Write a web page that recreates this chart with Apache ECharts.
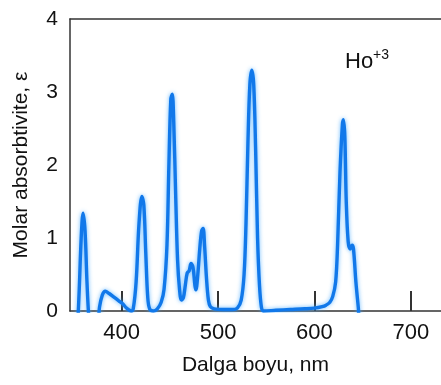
<!DOCTYPE html>
<html><head><meta charset="utf-8">
<script src="https://cdn.jsdelivr.net/npm/echarts@6/dist/echarts.min.js"></script>
<style>html,body{margin:0;padding:0;background:#fff}#c{width:441px;height:385px}</style>
</head><body><div id="c"></div>
<script>
// wavelength (nm) and molar absorptivity values
const wavelengths = [354,356,358,360,362,364,366,368,
  374,377,380,383,387,392,397,401,405,408,410,
  412,415,418,421,423,425,427,429,433,437,441,444,447,449,451,452.5,454,456,458,460,462,464,466,468,470,472,474,476,477,479,481,483,484.5,486,488,490,492,496,505,515,520,524,527,529,531,533,535,537,539,541,543,545,547,
  560,575,590,600,608,612,616,619,622,624,626.5,629,630,631.5,633,635,637,639,640.5,643,645.5,648,660];
const absorptivity = [-0.3,0.3,1.0,1.34,1.1,0.4,-0.1,-0.3,
  -0.3,0.05,0.22,0.27,0.24,0.19,0.14,0.1,0.04,0.01,0.0,
  0.03,0.4,1.2,1.57,1.45,0.8,0.2,0.03,0.0,0.03,0.12,0.3,0.9,2.0,2.9,2.97,2.6,1.6,0.7,0.3,0.15,0.18,0.35,0.52,0.55,0.65,0.6,0.35,0.29,0.5,0.85,1.1,1.13,0.9,0.45,0.15,0.06,0.03,0.02,0.02,0.04,0.15,0.5,1.2,2.3,3.1,3.3,3.1,2.2,1.0,0.35,0.05,0.0,
  0.01,0.02,0.03,0.04,0.06,0.08,0.12,0.2,0.4,0.9,1.9,2.55,2.62,2.4,1.5,0.95,0.85,0.9,0.85,0.4,0.05,-0.3,-0.3];
const xTicks = [400,500,600,700];

const data = wavelengths.map((w,i)=>[w,absorptivity[i]]);
const font = '"Liberation Sans", Arial, sans-serif';
const chart = echarts.init(document.getElementById('c'));
chart.setOption({
  backgroundColor:'#fff',
  animation:false,
  grid:{left:70,top:19,right:0,bottom:74},
  xAxis:[{
    type:'value', min:346.4, max:731.3,
    axisLine:{show:true,onZero:false,lineStyle:{color:'#333',width:1.5}},
    axisTick:{show:true,inside:true,length:20,customValues:xTicks,lineStyle:{color:'#333',width:2}},
    axisLabel:{customValues:xTicks,color:'#111',fontSize:22,fontFamily:font,margin:11},
    splitLine:{show:false},
    name:'Dalga boyu, nm', nameLocation:'middle', nameGap:44,
    nameTextStyle:{color:'#111',fontSize:21,fontFamily:font}
  },{
    type:'value', position:'top', min:346.4, max:731.3,
    axisLine:{show:true,onZero:false,lineStyle:{color:'#333',width:1.5}},
    axisTick:{show:false}, axisLabel:{show:false}, splitLine:{show:false}
  }],
  yAxis:{
    type:'value', min:0, max:4, interval:1,
    axisLine:{show:true,lineStyle:{color:'#333',width:1.5}},
    axisTick:{show:false},
    axisLabel:{color:'#111',fontSize:21,fontFamily:font,margin:12},
    splitLine:{show:false},
    name:'Molar absorbtivite, ε', nameLocation:'middle', nameGap:38,
    nameTextStyle:{color:'#111',fontSize:21,fontFamily:font}
  },
  graphic:[
    {type:'text',left:345,top:51,style:{text:'Ho',font:'22px '+font,fill:'#111'}},
    {type:'text',left:373,top:48,style:{text:'+3',font:'14px '+font,fill:'#111'}}
  ],
  series:[{
    type:'line', data:data, smooth:0.35, symbol:'none', clip:true,
    lineStyle:{color:'#1178ea',width:3.4,shadowColor:'rgba(70,170,255,0.8)',shadowBlur:4}
  }]
});
</script></body></html>
